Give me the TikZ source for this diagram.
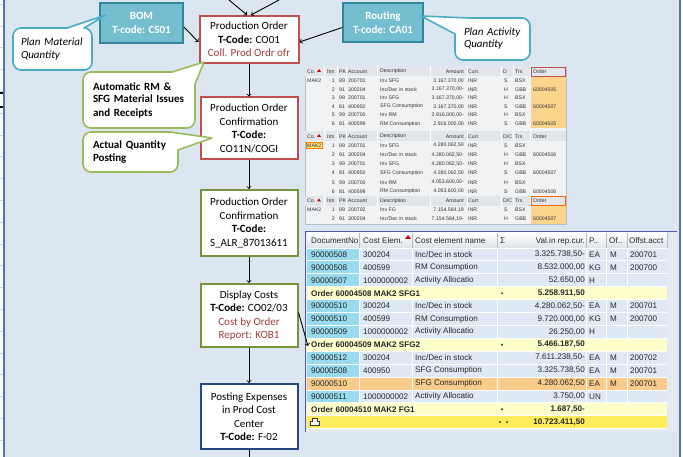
\documentclass[tikz,border=0pt]{standalone}
\usepackage{fontspec}
\setmainfont{Carlito}
\newfontfamily\sapfont{Liberation Sans}
\usetikzlibrary{positioning,calc}

\definecolor{bgblue}{RGB}{220,230,241}
\definecolor{edgeblue}{RGB}{84,118,168}
\definecolor{tealfill}{RGB}{117,190,208}
\definecolor{tealline}{RGB}{49,133,156}
\definecolor{tealcall}{RGB}{75,172,198}
\definecolor{greencall}{RGB}{155,187,89}
\definecolor{redline}{RGB}{192,80,77}
\definecolor{oliveline}{RGB}{119,147,60}
\definecolor{navyline}{RGB}{37,72,130}
\definecolor{darkred}{RGB}{160,60,58}
\definecolor{listbg}{RGB}{241,242,244}
\definecolor{listhead}{RGB}{226,229,233}
\definecolor{sepgray}{RGB}{185,190,198}
\definecolor{orderhl}{RGB}{251,213,140}
\definecolor{keyhl}{RGB}{255,228,120}
\definecolor{framefill}{RGB}{228,234,242}
\definecolor{headgray}{RGB}{222,227,234}
\definecolor{docfill}{RGB}{152,218,238}
\definecolor{cellfill}{RGB}{222,233,245}
\definecolor{sumrow}{RGB}{255,255,204}
\definecolor{totalrow}{RGB}{255,236,90}
\definecolor{pickrow}{RGB}{250,204,140}

\tikzset{
  flowbox/.style={draw, line width=2pt, fill=white, minimum width=97pt, align=center,
    inner sep=1pt, font=\fontsize{11}{13.5}\selectfont},
  srcbox/.style={draw=tealline, line width=1.6pt, fill=tealfill, text=white, align=center,
    font=\bfseries\fontsize{11}{14}\selectfont},
  callbox/.style={draw, line width=1.6pt, fill=white, rounded corners=8pt, align=left,
    inner ysep=0pt, font=\fontsize{11}{13}\selectfont},
  flow/.style={->, line width=0.9pt},
  tinytxt/.style={font=\sapfont\fontsize{5.2}{6}\selectfont, inner sep=0pt, anchor=west,
    text=black!80},
  celltxt/.style={font=\sapfont\fontsize{8.1}{10}\selectfont, inner sep=0pt, anchor=west,
    text=black!85},
  cellbold/.style={celltxt, font=\sapfont\bfseries\fontsize{8.1}{10}\selectfont}
}

\begin{document}
\begin{tikzpicture}[x=1pt,y=-1pt]
\useasboundingbox (0,0) rectangle (683,457);

% page and window edges
\fill[bgblue] (0,0) rectangle (683,457);
\fill[white] (0,0) rectangle (3.5,457);
\fill[white] (681,0) rectangle (683,457);
\foreach \g in {0,...,20}
  \draw[gray!35, line width=0.5pt] (0,4+21.8*\g) -- (3.5,4+21.8*\g);
\draw[black, line width=1.5pt] (0,93) -- (3.5,93) (0,107) -- (3.5,107);
\draw[edgeblue, line width=1.5pt] (4.2,0) -- (4.2,457);
\draw[edgeblue, line width=2pt] (680,0) -- (680,457);

% FI document lists
\fill[listbg] (305,66) rectangle (566,224);
\draw[sepgray, line width=0.5pt] (305,66) rectangle (566,224);
\fill[orderhl] (531,76.5) rectangle (566,128);
\fill[orderhl] (531,206) rectangle (566,224);
\foreach \t/\hy/\dc in {a/71.5/D, b/136.5/{D/C}, c/201/{D/C}} {
  \fill[listhead] (305,\hy-5) rectangle (566,\hy+5);
  \foreach \sx in {324,337,346,377,430,467,501,513,530}
    \draw[white, line width=0.6pt] (\sx,\hy-5) -- (\sx,\hy+5);
  \node[tinytxt] (h\t-co) at (307,\hy) {Co.};
  \fill[red!80!black] (317,\hy+0.5) -- (321,\hy+0.5) -- (319,\hy-2.5) -- cycle;
  \node[tinytxt] (h\t-itm) at (327,\hy) {Itm};
  \node[tinytxt] (h\t-pk) at (339,\hy) {PK};
  \node[tinytxt] (h\t-acct) at (348,\hy) {Account};
  \node[tinytxt] (h\t-desc) at (380,\hy) {Description};
  \node[tinytxt, anchor=east] (h\t-amt) at (464,\hy) {Amount};
  \node[tinytxt] (h\t-cur) at (468,\hy) {Curr.};
  \node[tinytxt] (h\t-dc) at (503,\hy) {\dc};
  \node[tinytxt] (h\t-trs) at (515,\hy) {Trs};
  \node[tinytxt] (h\t-ord) at (533,\hy) {Order};
}
\draw[redline, line width=0.7pt] (531,67) rectangle (565,76);
\draw[orange!80!red, line width=0.7pt] (531,196.5) rectangle (565,205.5);

\foreach \t/\ry/\itm/\pk/\acct/\desc/\amt/\dc/\trs/\ord in {
  a/80.8/1/89/200701/Inv SFG/{3.167.370,00}/S/BSX/{},
  a/89.4/2/91/300204/{Inc/Dec in stock}/{3.167.370,00-}/H/GBB/60004505,
  a/98/3/99/200701/Inv SFG/{3.167.370,00-}/H/BSX/{},
  a/106.6/4/81/400950/SFG Consumption/{3.167.370,00}/S/GBB/60004507,
  a/115.2/5/99/200700/Inv RM/{2.916.000,00-}/H/BSX/{},
  a/123.8/6/81/400599/RM Consumption/{2.916.000,00}/S/GBB/60004505,
  b/145.5/1/89/200701/Inv SFG/{4.280.062,50}/S/BSX/{},
  b/154.7/2/91/300204/{Inc/Dec in stock}/{4.280.062,50-}/H/GBB/60004506,
  b/163.9/3/99/200701/Inv SFG/{4.280.062,50-}/H/BSX/{},
  b/173.1/4/81/400950/SFG Consumption/{4.280.062,50}/S/GBB/60004507,
  b/182.3/5/99/200700/Inv RM/{4.053.600,00-}/H/BSX/{},
  b/191.5/6/81/400599/RM Consumption/{4.053.600,00}/S/GBB/60004506,
  c/210/1/89/200702/Inv FG/{7.154.564,19}/S/BSX/{},
  c/219/2/91/300204/{Inc/Dec in stock}/{7.154.564,19-}/H/GBB/60004507} {
  \node[tinytxt, anchor=east] (r\t\itm-itm) at (335,\ry) {\itm};
  \node[tinytxt] (r\t\itm-pk) at (339,\ry) {\pk};
  \node[tinytxt] (r\t\itm-acct) at (348,\ry) {\acct};
  \node[tinytxt] (r\t\itm-desc) at (380,\ry) {\desc};
  \node[tinytxt, anchor=east] (r\t\itm-amt) at (464,\ry) {\amt};
  \node[tinytxt] (r\t\itm-cur) at (468,\ry) {INR};
  \node[tinytxt] (r\t\itm-dc) at (504,\ry) {\dc};
  \node[tinytxt] (r\t\itm-trs) at (515,\ry) {\trs};
  \node[tinytxt] (r\t\itm-ord) at (533,\ry) {\ord};
}
\node[tinytxt] (ra-co) at (307,80.8) {MAK2};
\node[tinytxt, fill=keyhl, draw=orange, line width=0.4pt, inner sep=1pt] (rb-co) at (306,145.5) {MAK2};
\node[tinytxt] (rc-co) at (307,210) {MAK2};

% cost report
\fill[framefill] (305,231) rectangle (677,432);
\draw[gray!70!blue, line width=0.8pt] (305.5,432) -- (305.5,231.5) -- (677,231.5);
\shade[top color=white, bottom color=headgray] (307,233) rectangle (667,248);
\foreach \sx in {359,412,497,586,606,627,667}
  \draw[sepgray, line width=0.6pt] (\sx,233) -- (\sx,248);
\node[celltxt] (hd-doc) at (311,241) {DocumentNo};
\node[celltxt] (hd-elem) at (363,241) {Cost Elem.};
\fill[red!80!black] (405,239) -- (411,239) -- (408,235) -- cycle;
\node[celltxt] (hd-name) at (415,241) {Cost element name};
\node[celltxt] (hd-sig) at (500,241) {Σ};
\node[celltxt, anchor=east] (hd-val) at (585,241) {Val.in rep.cur.};
\node[celltxt] (hd-un) at (589,241) {P..};
\node[celltxt] (hd-of) at (609,241) {Of..};
\node[celltxt] (hd-off) at (629,241) {Offst.acct};

\fill[cellfill] (307,248) rectangle (667,428.6);
\fill[docfill] (307,248) rectangle (359,428.6);
\fill[pickrow] (307,248+12.9*10) rectangle (667,248+12.9*11);
\foreach \sx in {359,412,497,586,606,627}
  \draw[white, line width=0.8pt] (\sx,248) -- (\sx,428.6);
\foreach \rw in {3,7,12}
  \fill[sumrow] (307,248+12.9*\rw) rectangle (667,248+12.9*\rw+12.9);
\fill[totalrow] (307,248+12.9*13) rectangle (667,428.6);
\foreach \rw in {0,...,14}
  \draw[white, line width=0.8pt] (307,248+12.9*\rw) -- (667,248+12.9*\rw);

\foreach \rw/\doc/\elem/\cname/\val/\un/\of/\off in {
  0/90000508/300204/{Inc/Dec in stock}/{3.325.738,50-}/EA/M/200701,
  1/90000508/400599/RM Consumption/{8.532.000,00}/KG/M/200700,
  2/90000507/1000000002/Activity Allocatio/{52.650,00}/H/{}/{},
  4/90000510/300204/{Inc/Dec in stock}/{4.280.062,50-}/EA/M/200701,
  5/90000510/400599/RM Consumption/{9.720.000,00}/KG/M/200700,
  6/90000509/1000000002/Activity Allocatio/{26.250,00}/H/{}/{},
  8/90000512/300204/{Inc/Dec in stock}/{7.611.238,50-}/EA/M/200702,
  9/90000508/400950/SFG Consumption/{3.325.738,50}/EA/M/200701,
  10/90000510/{}/SFG Consumption/{4.280.062,50}/EA/M/200701,
  11/90000511/1000000002/Activity Allocatio/{3.750,00}/UN/{}/{}} {
  \node[celltxt] (c\rw-doc) at (311,254.45+12.9*\rw) {\doc};
  \node[celltxt] (c\rw-elem) at (363,254.45+12.9*\rw) {\elem};
  \node[celltxt] (c\rw-name) at (415,254.45+12.9*\rw) {\cname};
  \node[celltxt, anchor=east] (c\rw-val) at (585,254.45+12.9*\rw) {\val};
  \node[celltxt] (c\rw-un) at (589,254.45+12.9*\rw) {\un};
  \node[celltxt] (c\rw-of) at (610,254.45+12.9*\rw) {\of};
  \node[celltxt] (c\rw-off) at (630,254.45+12.9*\rw) {\off};
}
\foreach \rw/\olab/\osum in {3/Order 60004508 MAK2 SFG1/{5.258.911,50},
  7/Order 60004509 MAK2 SFG2/{5.466.187,50},
  12/Order 60004510 MAK2 FG1/{1.687,50-}} {
  \node[cellbold] (o\rw-lab) at (311,254.45+12.9*\rw) {\olab};
  \fill[black!80] (502,254.45+12.9*\rw) circle (1.1);
  \node[cellbold, anchor=east] (o\rw-sum) at (585,254.45+12.9*\rw) {\osum};
}
% total line
\filldraw[fill=white, draw=black!80, line width=0.6pt]
  (310,425) -- (310,421) -- (312,421) -- (312,418) -- (317,418) -- (317,421)
  -- (319,421) -- (319,425) -- cycle;
\fill[black!80] (500,422.1) circle (1.1) (507,422.1) circle (1.1);
\node[cellbold, anchor=east] (tot-sum) at (585,422.1) {10.723.411,50};

% master data
\node[srcbox, minimum width=83pt, minimum height=40pt] (bom) at (141.5,23) {BOM\\T-code: CS01};
\node[srcbox, minimum width=80pt, minimum height=39pt] (rout) at (383,22.5) {Routing\\T-code: CA01};

% process steps
\node[flowbox, draw=redline, minimum width=99pt, minimum height=47pt] (po) at (249,39.5)
  {Production Order\\\textbf{T-Code:} CO01\\\textcolor{darkred}{Coll. Prod Ordr ofr}};
\node[flowbox, draw=redline, minimum height=62pt] (poc) at (249,128.5)
  {Production Order\\Confirmation\\\textbf{T-Code:}\\CO11N/COGI};
\node[flowbox, draw=oliveline, minimum height=66pt] (rep) at (249,223)
  {Production Order\\Confirmation\\\textbf{T-Code:}\\S\_ALR\_87013611};
\node[flowbox, draw=oliveline, minimum height=63pt] (disp) at (249,315.5)
  {Display Costs\\\textbf{T-Code:} CO02/03\\\textcolor{darkred}{Cost by Order}\\\textcolor{darkred}{Report: KOB1}};
\node[flowbox, draw=navyline, minimum height=65pt] (post) at (249,416.5)
  {Posting Expenses\\in Prod Cost\\Center\\\textbf{T-Code:} F-02};

\coordinate (topa) at (229,0);
\coordinate (topb) at (279,0);
\coordinate (costhit) at (308,346);
\coordinate (bottomend) at (249,457);

\draw[flow] (topa) -- ([xshift=-2pt]po.north);
\draw[flow] (topb) -- ([xshift=2pt]po.north);
\draw[flow] ([yshift=-4pt]bom.east) -- ([yshift=-2.5pt]po.west);
\draw[flow] ([yshift=-5pt]rout.west) -- ([yshift=-2.5pt]po.east);
\draw[flow] (po.south) -- (poc.north);
\draw[flow] (poc.south) -- (rep.north);
\draw[flow] (rep.south) -- (disp.north);
\draw[flow] (disp.south) -- (post.north);
\draw[flow] ([yshift=3pt]disp.east) -- (costhit);
\draw[line width=0.9pt] (post.south) -- (bottomend);

% callouts
\node[callbox, draw=tealcall, text width=63pt, inner xsep=8pt, minimum height=42pt,
  font=\itshape\fontsize{11}{13}\selectfont] (pm) at (52.5,49) {Plan Material\\Quantity};
\fill[white] (67,28) -- (106,15) -- (84,28) -- (76,33) -- cycle;
\draw[tealcall, line width=1.6pt, line join=round] (67,28) -- (106,15) -- (84,28);

\node[callbox, draw=tealcall, text width=57pt, inner xsep=9pt, minimum height=42pt,
  font=\itshape\fontsize{11}{12}\selectfont] (pa) at (492.5,39) {Plan Activity\\Quantity};
\fill[white] (455,34) -- (421,16) -- (469,18) -- (464,28) -- cycle;
\draw[tealcall, line width=1.6pt, line join=round] (455,34) -- (421,16) -- (469,18);

\node[callbox, draw=greencall, text width=92pt, inner xsep=10pt, minimum height=56pt,
  font=\bfseries\fontsize{11}{13}\selectfont] (ar) at (139,100)
  {Automatic RM \&\\SFG Material Issues\\and Receipts};
\fill[white] (172,72) -- (204,62) -- (195,84) -- (186,80) -- cycle;
\draw[greencall, line width=1.6pt, line join=round] (172,72) -- (204,62) -- (195,84);

\node[callbox, draw=greencall, text width=75pt, inner xsep=10pt, minimum height=40pt,
  font=\bfseries\fontsize{11}{13}\selectfont] (aq) at (130.5,152) {Actual Quantity\\Posting};
\fill[white] (170,132) -- (212,138) -- (178,150) -- (170,142) -- cycle;
\draw[greencall, line width=1.6pt, line join=round] (170,132) -- (212,138) -- (178,150);
\end{tikzpicture}
\end{document}
